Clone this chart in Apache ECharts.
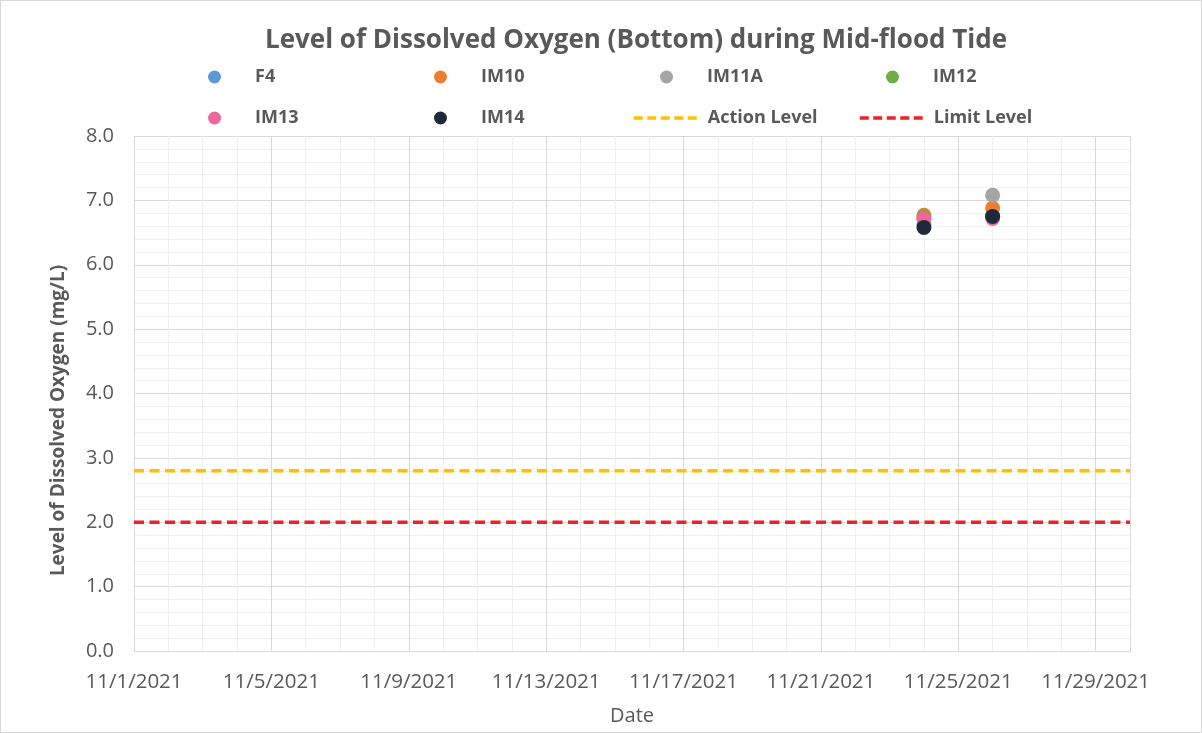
<!DOCTYPE html>
<html>
<head>
<meta charset="utf-8">
<script src="https://cdn.jsdelivr.net/npm/echarts@6/dist/echarts.min.js"></script>
<style>
  html, body { margin: 0; padding: 0; background: #fff; }
  #main { width: 1200px; height: 731px; border: 1px solid #d9d9d9; }
</style>
</head>
<body>
<div id="main"></div>
<script>
// data
var dates = ['2021-11-24', '2021-11-26'];
var f4 = [6.62, 6.76];
var im10 = [6.77, 6.88];
var im11a = [6.72, 7.08];
var im12 = [6.74, 6.75];
var im13 = [6.71, 6.72];
var im14 = [6.58, 6.75];
var actionLevel = 2.8;
var limitLevel = 2.0;
var axisStart = '2021-11-01';
var axisEnd = '2021-11-30';

var DAY = 86400000;
function ts(s) {
    var p = s.split('-');
    return Date.UTC(+p[0], +p[1] - 1, +p[2]);
}
function pairs(vals) {
    return dates.map(function (d, i) { return [ts(d), vals[i]]; });
}
var xMin = ts(axisStart), xMax = ts(axisEnd);

var font = '"Open Sans", sans-serif';
var grey = '#595959';

var stations = [
    { name: 'F4', data: f4, color: '#5B9BD5' },
    { name: 'IM10', data: im10, color: '#ED7D31' },
    { name: 'IM11A', data: im11a, color: '#A5A5A5' },
    { name: 'IM12', data: im12, color: '#70AD47' },
    { name: 'IM13', data: im13, color: '#F2679B' },
    { name: 'IM14', data: im14, color: '#1F2A38' }
];

var series = stations.map(function (s) {
    return {
        name: s.name,
        type: 'scatter',
        data: pairs(s.data),
        symbolSize: 15,
        itemStyle: { color: s.color, opacity: 1 }
    };
});
series.push({
    name: 'Action Level', type: 'line', symbol: 'none',
    data: [[xMin, actionLevel], [xMax, actionLevel]],
    lineStyle: { color: '#FFC000', width: 3.5, type: [10, 5.5] },
    itemStyle: { color: '#FFC000' }
});
series.push({
    name: 'Limit Level', type: 'line', symbol: 'none',
    data: [[xMin, limitLevel], [xMax, limitLevel]],
    lineStyle: { color: '#EE2128', width: 3.5, type: [10, 5.5] },
    itemStyle: { color: '#EE2128' }
});

// legend: one per item so the columns line up like the original
var legendPos = [
    ['F4', 202, 62], ['IM10', 428, 62], ['IM11A', 654, 62], ['IM12', 880, 62],
    ['IM13', 202, 103], ['IM14', 428, 103], ['Action Level', 626, 103], ['Limit Level', 852, 103]
];
var legends = legendPos.map(function (l) {
    var isLine = l[0].indexOf('Level') > 0;
    var lg = {
        data: [l[0]],
        left: l[1],
        top: l[2],
        selectedMode: false,
        itemWidth: isLine ? 67 : 13,
        itemHeight: isLine ? 14 : 13,
        textStyle: {
            color: grey, fontFamily: font, fontWeight: 'bold', fontSize: 18,
            padding: isLine ? [0, 0, 0, 2] : [0, 0, 0, 29]
        }
    };
    if (isLine) {
        lg.itemStyle = { opacity: 0 };
        lg.lineStyle = { width: 3.5, type: [9, 4.5] };
    } else {
        lg.icon = 'circle';
    }
    return lg;
});

var myChart = echarts.init(document.getElementById('main'));

var option = {
    animation: false,
    title: {
        text: 'Level of Dissolved Oxygen (Bottom) during Mid-flood Tide',
        left: 630,
        textAlign: 'center',
        top: 22,
        textStyle: { color: grey, fontFamily: font, fontWeight: 'bold', fontSize: 26 }
    },
    legend: legends,
    grid: { left: 133, right: 71, top: 135, bottom: 81 },
    xAxis: [
        {
            // major ticks every 4 days, with labels
            type: 'value', min: xMin, max: xMax, interval: 4 * DAY,
            name: 'Date', nameLocation: 'middle', nameGap: 55,
            nameTextStyle: { color: grey, fontFamily: font, fontSize: 20 },
            axisLine: { show: true, lineStyle: { color: '#D9D9D9', width: 1 } },
            axisTick: { show: false },
            axisLabel: {
                color: grey, fontFamily: font, fontSize: 20.5, margin: 21,
                showMaxLabel: false,
                formatter: function (v) {
                    var d = new Date(v);
                    return (d.getUTCMonth() + 1) + '/' + d.getUTCDate() + '/' + d.getUTCFullYear();
                }
            },
            splitLine: { show: true, lineStyle: { color: '#D9D9D9', width: 1 } },
            z: 2
        },
        {
            // daily minor grid
            type: 'value', min: xMin, max: xMax, interval: DAY, position: 'bottom',
            axisLine: { show: false }, axisTick: { show: false }, axisLabel: { show: false },
            splitLine: { show: true, lineStyle: { color: '#F0F0F0', width: 1 } },
            z: 1
        }
    ],
    yAxis: {
        type: 'value', min: 0, max: 8, interval: 1,
        name: 'Level of Dissolved Oxygen (mg/L)', nameLocation: 'middle', nameGap: 66,
        nameTextStyle: {
            color: grey, fontFamily: font, fontWeight: 'bold', fontSize: 19,
            padding: [0, 54, 0, 0]
        },
        axisLine: { show: true, lineStyle: { color: '#D9D9D9' } },
        axisTick: { show: false },
        axisLabel: {
            color: grey, fontFamily: font, fontSize: 20, margin: 20,
            formatter: function (v) { return v.toFixed(1); }
        },
        splitLine: { lineStyle: { color: '#D9D9D9' } },
        minorTick: { show: false, splitNumber: 5 },
        minorSplitLine: { show: true, lineStyle: { color: '#F0F0F0' } }
    },
    series: series
};

myChart.setOption(option);
</script>
</body>
</html>
